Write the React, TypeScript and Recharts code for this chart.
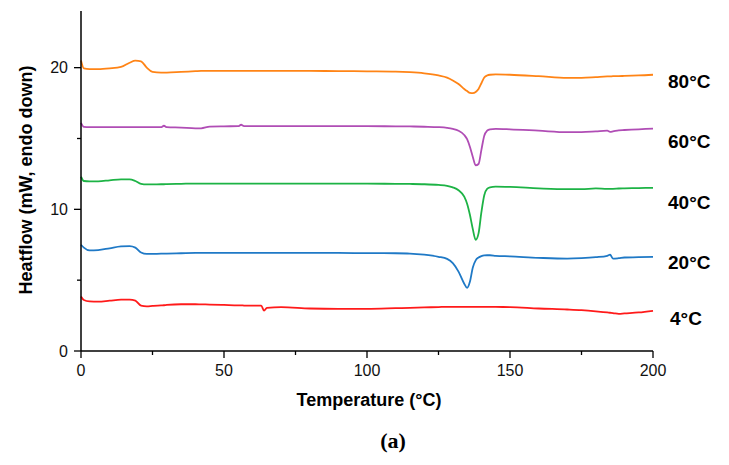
import { LineChart, Line, XAxis, YAxis } from 'recharts'

// temperature grid (°C), shared by all curves
const temps = [0, 1, 3, 6, 10, 14, 17, 19, 21, 23, 25, 28, 29, 30, 35, 40, 42, 45, 50, 55, 56, 57, 60, 63, 64, 65, 70, 80, 90, 100, 110, 115, 120, 125, 128, 130, 132, 134, 135, 136, 137, 138, 139, 140, 141, 142, 143, 145, 150, 160, 170, 175, 180, 184, 185, 186, 188, 190, 195, 200]

const hf80 = [20.5, 19.95, 19.9, 19.9, 19.95, 20.05, 20.35, 20.5, 20.45, 20.0, 19.7, 19.65, 19.65, 19.65, 19.7, 19.75, 19.77, 19.78, 19.78, 19.78, 19.78, 19.78, 19.78, 19.78, 19.78, 19.78, 19.78, 19.77, 19.76, 19.74, 19.72, 19.68, 19.6, 19.45, 19.3, 19.1, 18.85, 18.5, 18.35, 18.22, 18.2, 18.28, 18.5, 18.9, 19.3, 19.45, 19.5, 19.52, 19.5, 19.4, 19.28, 19.28, 19.33, 19.38, 19.38, 19.4, 19.4, 19.42, 19.45, 19.5]
const hf60 = [16.1, 15.82, 15.8, 15.8, 15.8, 15.8, 15.8, 15.8, 15.8, 15.8, 15.8, 15.8, 15.9, 15.8, 15.77, 15.72, 15.72, 15.84, 15.86, 15.87, 15.97, 15.88, 15.88, 15.88, 15.88, 15.88, 15.88, 15.88, 15.87, 15.87, 15.86, 15.85, 15.83, 15.8, 15.75, 15.68, 15.55, 15.25, 14.95, 14.4, 13.7, 13.1, 13.2, 14.2, 15.2, 15.55, 15.65, 15.68, 15.65, 15.55, 15.45, 15.45, 15.5, 15.55, 15.47, 15.5, 15.58, 15.6, 15.65, 15.7]
const hf40 = [12.3, 12.0, 11.98, 11.98, 12.05, 12.12, 12.12, 12.0, 11.8, 11.76, 11.76, 11.77, 11.77, 11.78, 11.8, 11.82, 11.82, 11.82, 11.82, 11.82, 11.82, 11.82, 11.82, 11.82, 11.82, 11.82, 11.82, 11.82, 11.81, 11.81, 11.8, 11.79, 11.77, 11.72, 11.66, 11.55, 11.35, 10.9, 10.4, 9.6, 8.6, 7.85, 8.3, 9.8, 11.0, 11.45, 11.55, 11.6, 11.58, 11.48, 11.42, 11.42, 11.48, 11.45, 11.45, 11.45, 11.47, 11.48, 11.5, 11.52]
const hf20 = [7.5, 7.3, 7.1, 7.12, 7.25, 7.38, 7.4, 7.3, 6.95, 6.85, 6.85, 6.87, 6.87, 6.88, 6.9, 6.92, 6.92, 6.92, 6.92, 6.92, 6.92, 6.92, 6.92, 6.92, 6.92, 6.92, 6.92, 6.92, 6.92, 6.91, 6.9, 6.88, 6.8, 6.65, 6.5, 6.2, 5.6, 4.75, 4.45, 4.9, 5.9, 6.4, 6.6, 6.7, 6.75, 6.76, 6.76, 6.72, 6.68, 6.58, 6.52, 6.55, 6.62, 6.72, 6.8, 6.52, 6.55, 6.6, 6.62, 6.65]
const hf4 = [3.85, 3.6, 3.5, 3.48, 3.55, 3.62, 3.62, 3.55, 3.2, 3.15, 3.18, 3.22, 3.23, 3.25, 3.3, 3.3, 3.29, 3.28, 3.25, 3.22, 3.22, 3.21, 3.2, 3.2, 2.85, 3.05, 3.1, 3.0, 2.97, 2.97, 3.02, 3.05, 3.08, 3.1, 3.12, 3.12, 3.12, 3.12, 3.12, 3.12, 3.12, 3.12, 3.12, 3.12, 3.12, 3.12, 3.12, 3.11, 3.1, 3.0, 2.93, 2.88, 2.8, 2.72, 2.7, 2.68, 2.62, 2.65, 2.72, 2.84]

const xTicks = [0, 25, 50, 75, 100, 125, 150, 175, 200]
const yTicks = [0, 5, 10, 15, 20]

const series = [
  { key: 'hf80', label: '80°C', color: '#FF8416', top: 81 },
  { key: 'hf60', label: '60°C', color: '#B04DB5', top: 141 },
  { key: 'hf40', label: '40°C', color: '#1DB345', top: 202 },
  { key: 'hf20', label: '20°C', color: '#1F79C6', top: 262 },
  { key: 'hf4', label: '4°C', color: '#FF1A1A', top: 318 },
]

const data = temps.map((t, i) => ({
  t,
  hf80: hf80[i],
  hf60: hf60[i],
  hf40: hf40[i],
  hf20: hf20[i],
  hf4: hf4[i],
}))

const font = '"Liberation Sans", Arial, sans-serif'

function XTick({ x, y, payload }: any) {
  const major = payload.value % 50 === 0
  return (
    <g>
      <line x1={x} x2={x} y1={y} y2={y + (major ? 7 : 4)} stroke="#000" strokeWidth={1.3} />
      {major && (
        <text x={x} y={y + 25} textAnchor="middle" fontSize={16} fill="#111" fontFamily={font}>
          {payload.value}
        </text>
      )}
    </g>
  )
}

function YTick({ x, y, payload }: any) {
  const major = payload.value % 10 === 0
  return (
    <g>
      <line x1={x - (major ? 7 : 4)} x2={x} y1={y} y2={y} stroke="#000" strokeWidth={1.3} />
      {major && (
        <text x={x - 13} y={y} dy="0.35em" textAnchor="end" fontSize={16} fill="#111" fontFamily={font}>
          {payload.value}
        </text>
      )}
    </g>
  )
}

export default function App() {
  return (
    <div style={{ position: 'absolute', left: 0, top: 0, width: 729, height: 465, background: '#fff' }}>
      <LineChart width={729} height={465} data={data} margin={{ top: 11, right: 76, bottom: 84, left: 21 }}>
        <XAxis
          dataKey="t"
          type="number"
          domain={[0, 200]}
          ticks={xTicks}
          tickSize={0}
          tickMargin={0}
          height={30}
          tickLine={false}
          tick={<XTick />}
          axisLine={{ stroke: '#000', strokeWidth: 1.5 }}
        />
        <YAxis
          type="number"
          domain={[0, 24]}
          ticks={yTicks}
          tickSize={0}
          tickMargin={0}
          width={60}
          tickLine={false}
          tick={<YTick />}
          axisLine={{ stroke: '#000', strokeWidth: 1.5 }}
        />
        {series.map((s) => (
          <Line
            key={s.key}
            type="monotone"
            dataKey={s.key}
            stroke={s.color}
            strokeWidth={1.8}
            dot={false}
            isAnimationActive={false}
          />
        ))}
      </LineChart>
      <svg width={729} height={465} style={{ position: 'absolute', left: 0, top: 0, pointerEvents: 'none' }}>
        {series.map((s) => (
          <text
            key={s.key}
            x={s.key === 'hf4' ? 670 : 668}
            y={s.top}
            dy="0.35em"
            fontSize={19}
            fontWeight="bold"
            fontFamily={font}
            fill="#000"
          >
            {s.label}
          </text>
        ))}
        <text
          transform="translate(26, 180) rotate(-90)"
          textAnchor="middle"
          dy="0.35em"
          fontSize={18}
          fontWeight="bold"
          fontFamily={font}
          fill="#000"
        >
          Heatflow (mW, endo down)
        </text>
        <text x={369} y={400} dy="0.35em" textAnchor="middle" fontSize={18} fontWeight="bold" fontFamily={font} fill="#000">
          Temperature (°C)
        </text>
        <text x={393} y={440} dy="0.35em" textAnchor="middle" fontSize={22} fontWeight="bold" fontFamily='"Liberation Serif", "DejaVu Serif", serif' fill="#000">
          (a)
        </text>
      </svg>
    </div>
  )
}
